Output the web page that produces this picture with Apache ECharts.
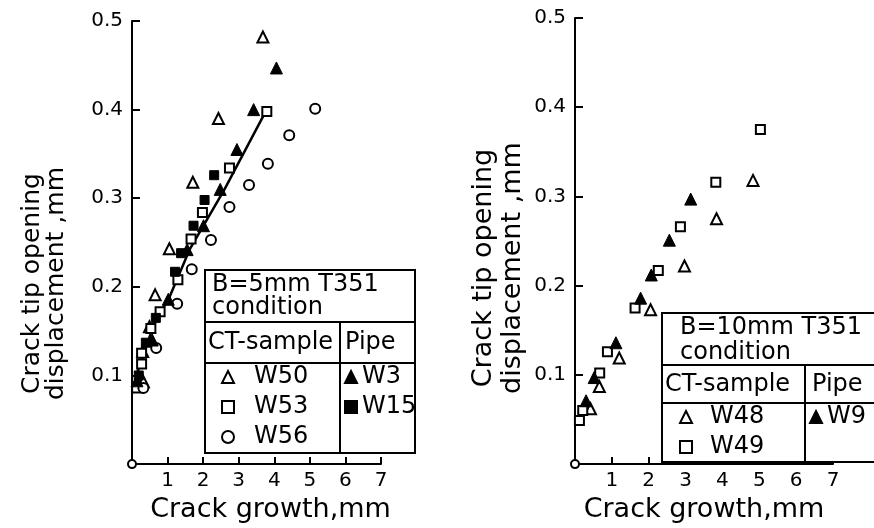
<!DOCTYPE html>
<html>
<head>
<meta charset="utf-8">
<script src="https://cdn.jsdelivr.net/npm/echarts@6/dist/echarts.min.js"></script>
<style>
  html, body { margin: 0; padding: 0; background: #fff; }
  #chart { width: 874px; height: 528px; }
</style>
</head>
<body>
<div id="chart"></div>
<script>
const ink = '#000'
const font = 'DejaVu Sans'

// left panel, B = 5 mm
const w50 = [[0.32, 0.093], [0.3, 0.127], [0.49, 0.155], [0.65, 0.191], [1.05, 0.243], [1.71, 0.318], [2.43, 0.39], [3.68, 0.482]]
const w53 = [[0.13, 0.086], [0.27, 0.113], [0.27, 0.125], [0.53, 0.153], [0.79, 0.172], [1.29, 0.208], [1.66, 0.254], [1.98, 0.284], [2.74, 0.334], [3.79, 0.398]]
const w56 = [[0.32, 0.086], [0.68, 0.131], [1.27, 0.181], [1.68, 0.22], [2.22, 0.253], [2.74, 0.29], [3.29, 0.315], [3.82, 0.339], [4.42, 0.371], [5.15, 0.401]]
const w3 = [[0.14, 0.094], [0.57, 0.14], [1.02, 0.186], [1.55, 0.242], [2.01, 0.269], [2.48, 0.31], [2.95, 0.355], [3.42, 0.4], [4.06, 0.447]]
const w15 = [[0.19, 0.1], [0.39, 0.137], [0.67, 0.165], [1.21, 0.217], [1.38, 0.238], [1.73, 0.269], [2.04, 0.298], [2.31, 0.326]]
const fitLine = [[0.12, 0.1], [0.6, 0.156], [1.07, 0.19], [1.63, 0.243], [2.6, 0.31], [3.76, 0.398]]

// right panel, B = 10 mm
const w48 = [[0.42, 0.062], [0.66, 0.087], [1.2, 0.119], [2.05, 0.173], [2.97, 0.222], [3.84, 0.275], [4.83, 0.318]]
const w49 = [[0.12, 0.049], [0.21, 0.06], [0.67, 0.102], [0.88, 0.126], [1.63, 0.175], [2.26, 0.217], [2.86, 0.266], [3.82, 0.316], [5.03, 0.375]]
const w9 = [[0.3, 0.071], [0.52, 0.097], [1.11, 0.136], [1.78, 0.186], [2.07, 0.212], [2.56, 0.251], [3.14, 0.297]]

const origin = [[0, 0]]

const xTitle = 'Crack growth,mm'
const yTitle = 'Crack tip opening\ndisplacement ,mm'

function scatter(name, data, symbol, size, axis) {
  return {
    name,
    type: 'scatter',
    data,
    symbol,
    symbolSize: size,
    xAxisIndex: axis,
    yAxisIndex: axis,
    itemStyle: {
      color: ink,
      borderColor: ink,
      borderWidth: symbol.startsWith('empty') ? 2 : 1,
      opacity: 1,
    },
    emphasis: { disabled: true },
    z: 3,
  }
}

function xAxis(index, shift) {
  return {
    gridIndex: index,
    type: 'value',
    min: 0,
    max: 7,
    interval: 1,
    name: xTitle,
    nameLocation: 'middle',
    nameGap: 24,
    nameTextStyle: { fontFamily: font, fontSize: 27, color: ink, padding: [0, 0, 0, shift] },
    axisLine: { lineStyle: { color: ink, width: 2 } },
    axisTick: { inside: true, length: 7, lineStyle: { color: ink, width: 2 } },
    axisLabel: { showMinLabel: false, fontFamily: font, fontSize: 20, color: ink, margin: 7 },
    splitLine: { show: false },
  }
}

function yAxis(index, gap, size, lineHeight, down) {
  return {
    gridIndex: index,
    type: 'value',
    min: 0,
    max: 0.5,
    interval: 0.1,
    name: yTitle,
    nameLocation: 'middle',
    nameRotate: 90,
    nameGap: gap,
    nameTextStyle: { fontFamily: font, fontSize: size, lineHeight, color: ink, padding: [0, down * 2, 0, 0] },
    axisLine: { lineStyle: { color: ink, width: 2 } },
    axisTick: { inside: true, length: 8, lineStyle: { color: ink, width: 2 } },
    axisLabel: { showMinLabel: false, fontFamily: font, fontSize: 20, color: ink, margin: 9 },
    splitLine: { show: false },
  }
}

function legend(names, left, top, textPad) {
  return {
    data: names,
    orient: 'vertical',
    left,
    top,
    padding: 0,
    itemGap: 6,
    itemWidth: 12,
    itemHeight: 12,
    selectedMode: false,
    z: 20,
    textStyle: { fontFamily: font, fontSize: 24, lineHeight: 24, color: ink, padding: [0, 0, 0, textPad] },
  }
}

function boxText(text, left, top) {
  return {
    type: 'text',
    left,
    top,
    style: { text, font: '24px "DejaVu Sans"', fill: ink },
    z: 11,
  }
}

function hLine(x1, x2, y) {
  return { type: 'line', shape: { x1, y1: y, x2, y2: y }, style: { stroke: ink, lineWidth: 2 }, z: 11 }
}

function vLine(x, y1, y2) {
  return { type: 'line', shape: { x1: x, y1, x2: x, y2 }, style: { stroke: ink, lineWidth: 2 }, z: 11 }
}

const chart = echarts.init(document.getElementById('chart'))

chart.setOption({
  animation: false,
  backgroundColor: '#fff',
  grid: [
    { left: 132, top: 21, width: 249, height: 445 },
    { left: 575, top: 18, width: 258, height: 449 },
  ],
  xAxis: [xAxis(0, 28), xAxis(1, 0)],
  yAxis: [yAxis(0, 64, 25, 24, 41), yAxis(1, 48, 27, 29, 27)],
  legend: [
    legend(['W50', 'W53', 'W56'], 221, 365, 15),
    legend(['W3', 'W15'], 344, 365, 0),
    legend(['W48', 'W49'], 679, 405, 13),
    legend(['W9'], 809, 405, 0),
  ],
  graphic: [
    { type: 'rect', shape: { x: 205, y: 270, width: 210, height: 183 }, style: { fill: '#fff', stroke: ink, lineWidth: 2 }, z: 10 },
    hLine(205, 415, 322),
    hLine(205, 415, 363),
    vLine(340, 322, 453),
    boxText('B=5mm T351', 212, 273),
    boxText('condition', 212, 296),
    boxText('CT-sample', 208, 331),
    boxText('Pipe', 345, 331),

    { type: 'rect', shape: { x: 662, y: 313, width: 220, height: 149 }, style: { fill: '#fff', stroke: ink, lineWidth: 2 }, z: 10 },
    hLine(662, 874, 365),
    hLine(662, 874, 403),
    vLine(805, 365, 462),
    boxText('B=10mm T351', 680, 316),
    boxText('condition', 680, 341),
    boxText('CT-sample', 665, 373),
    boxText('Pipe', 812, 373),
  ],
  series: [
    {
      name: 'fit',
      type: 'line',
      data: fitLine,
      symbol: 'none',
      xAxisIndex: 0,
      yAxisIndex: 0,
      lineStyle: { color: ink, width: 2.5 },
      emphasis: { disabled: true },
      z: 2,
    },
    scatter('W50', w50, 'emptyTriangle', 11, 0),
    scatter('W53', w53, 'emptyRect', 9, 0),
    scatter('W56', w56, 'emptyCircle', 10, 0),
    scatter('W3', w3, 'triangle', 12, 0),
    scatter('W15', w15, 'rect', 9, 0),
    scatter('W48', w48, 'emptyTriangle', 11, 1),
    scatter('W49', w49, 'emptyRect', 9, 1),
    scatter('W9', w9, 'triangle', 12, 1),
    {
      name: 'origin',
      type: 'scatter',
      data: origin,
      symbol: 'emptyCircle',
      symbolSize: 8,
      xAxisIndex: 0,
      yAxisIndex: 0,
      clip: false,
      itemStyle: { color: ink, borderWidth: 2, opacity: 1 },
      z: 5,
    },
    {
      name: 'origin2',
      type: 'scatter',
      data: origin,
      symbol: 'emptyCircle',
      symbolSize: 8,
      xAxisIndex: 1,
      yAxisIndex: 1,
      clip: false,
      itemStyle: { color: ink, borderWidth: 2, opacity: 1 },
      z: 5,
    },
  ],
})
</script>
</body>
</html>
